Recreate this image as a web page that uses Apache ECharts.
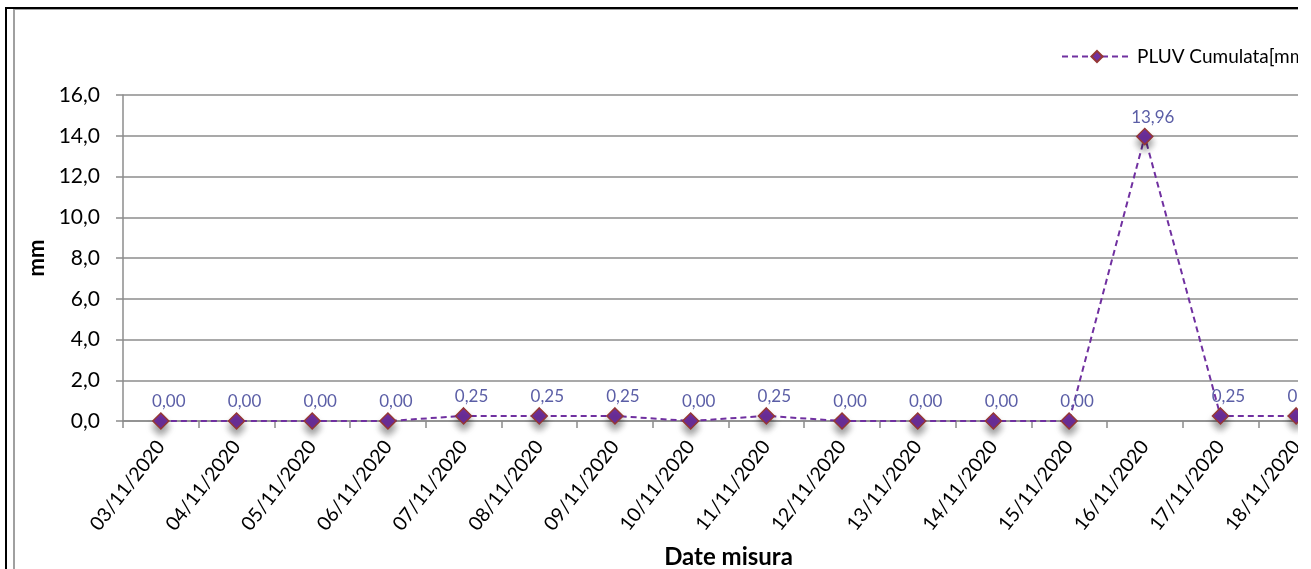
<!DOCTYPE html>
<html>
<head>
<meta charset="utf-8">
<script src="https://cdn.jsdelivr.net/npm/echarts@6/dist/echarts.min.js"></script>
<style>
  html, body { margin: 0; padding: 0; background: #fff; overflow: hidden; }
  #clip { position: absolute; left: 0; top: 0; width: 1298px; height: 569px; overflow: hidden; }
  #chart { position: absolute; left: 0; top: 0; width: 1400px; height: 569px; }
  #frameOuter { position: absolute; left: 5px; top: 7px; width: 1400px; height: 600px; border-left: 2px solid #000; border-top: 2px solid #000; }
  #frameInner { position: absolute; left: 13px; top: 9px; width: 1400px; height: 600px; border-left: 2px solid #a0a0a0; border-top: 1px solid #a0a0a0; }
</style>
</head>
<body>
<div id="clip">
  <div id="chart"></div>
  <div id="frameOuter"></div>
  <div id="frameInner"></div>
</div>
<script>
const categories = ['03/11/2020','04/11/2020','05/11/2020','06/11/2020','07/11/2020','08/11/2020','09/11/2020','10/11/2020','11/11/2020','12/11/2020','13/11/2020','14/11/2020','15/11/2020','16/11/2020','17/11/2020','18/11/2020'];
const pluvValues = [0, 0, 0, 0, 0.25, 0.25, 0.25, 0, 0.25, 0, 0, 0, 0, 13.96, 0.25, 0.25];
const seriesName = 'PLUV Cumulata[mm]';
const yAxisName = 'mm';
const xAxisName = 'Date misura';

const fmtComma = (v, d) => v.toFixed(d).replace('.', ',');

const chart = echarts.init(document.getElementById('chart'));
chart.setOption({
  animation: false,
  backgroundColor: 'transparent',
  textStyle: { fontFamily: 'Lato' },
  grid: { left: 123, top: 95, right: 66, bottom: 148, containLabel: false, outerBoundsMode: 'none' },
  legend: {
    left: 1061, top: 47, padding: 0,
    itemWidth: 70, itemHeight: 14,
    textStyle: { fontFamily: 'Lato', fontSize: 19, color: '#000' },
    data: [seriesName]
  },
  xAxis: {
    type: 'category',
    data: categories,
    boundaryGap: true,
    name: xAxisName,
    nameLocation: 'middle',
    nameGap: 124,
    nameTextStyle: { fontFamily: 'Lato', fontWeight: 'bold', fontSize: 24, color: '#000' },
    axisLine: { show: true, lineStyle: { color: '#8c8c8c', width: 1.5 } },
    axisTick: { show: true, length: 7, alignWithLabel: false, lineStyle: { color: '#8c8c8c', width: 1.5 } },
    axisLabel: { rotate: 52, margin: 22, fontFamily: 'Lato', fontSize: 19.5, color: '#000', interval: 0 }
  },
  yAxis: {
    type: 'value',
    min: 0, max: 16, interval: 2,
    name: yAxisName,
    nameLocation: 'middle',
    nameGap: 70,
    nameRotate: 90,
    nameTextStyle: { fontFamily: 'Lato', fontWeight: 'bold', fontSize: 22, color: '#000' },
    axisLine: { show: true, lineStyle: { color: '#8c8c8c', width: 1.5 } },
    axisTick: { show: true, length: 7, lineStyle: { color: '#8c8c8c', width: 1.5 } },
    axisLabel: { margin: 23, fontFamily: 'Lato', fontSize: 21, color: '#000', formatter: v => fmtComma(v, 1) },
    splitLine: { show: true, lineStyle: { color: '#8c8c8c', width: 1.5 } }
  },
  series: [{
    name: seriesName,
    type: 'line',
    data: pluvValues,
    symbol: 'diamond',
    symbolSize: 16,
    lineStyle: { color: '#7030a0', width: 2, type: [6, 4] },
    itemStyle: {
      color: '#7030a0', borderColor: '#953735', borderWidth: 1.5,
      shadowColor: 'rgba(0,0,0,0.4)', shadowBlur: 7, shadowOffsetY: 6
    },
    label: {
      show: true, position: 'top', distance: 2, offset: [8, 0],
      fontFamily: 'Lato', fontSize: 17, color: '#5b5ea6',
      formatter: p => fmtComma(p.value, 2)
    }
  }]
});
</script>
</body>
</html>
